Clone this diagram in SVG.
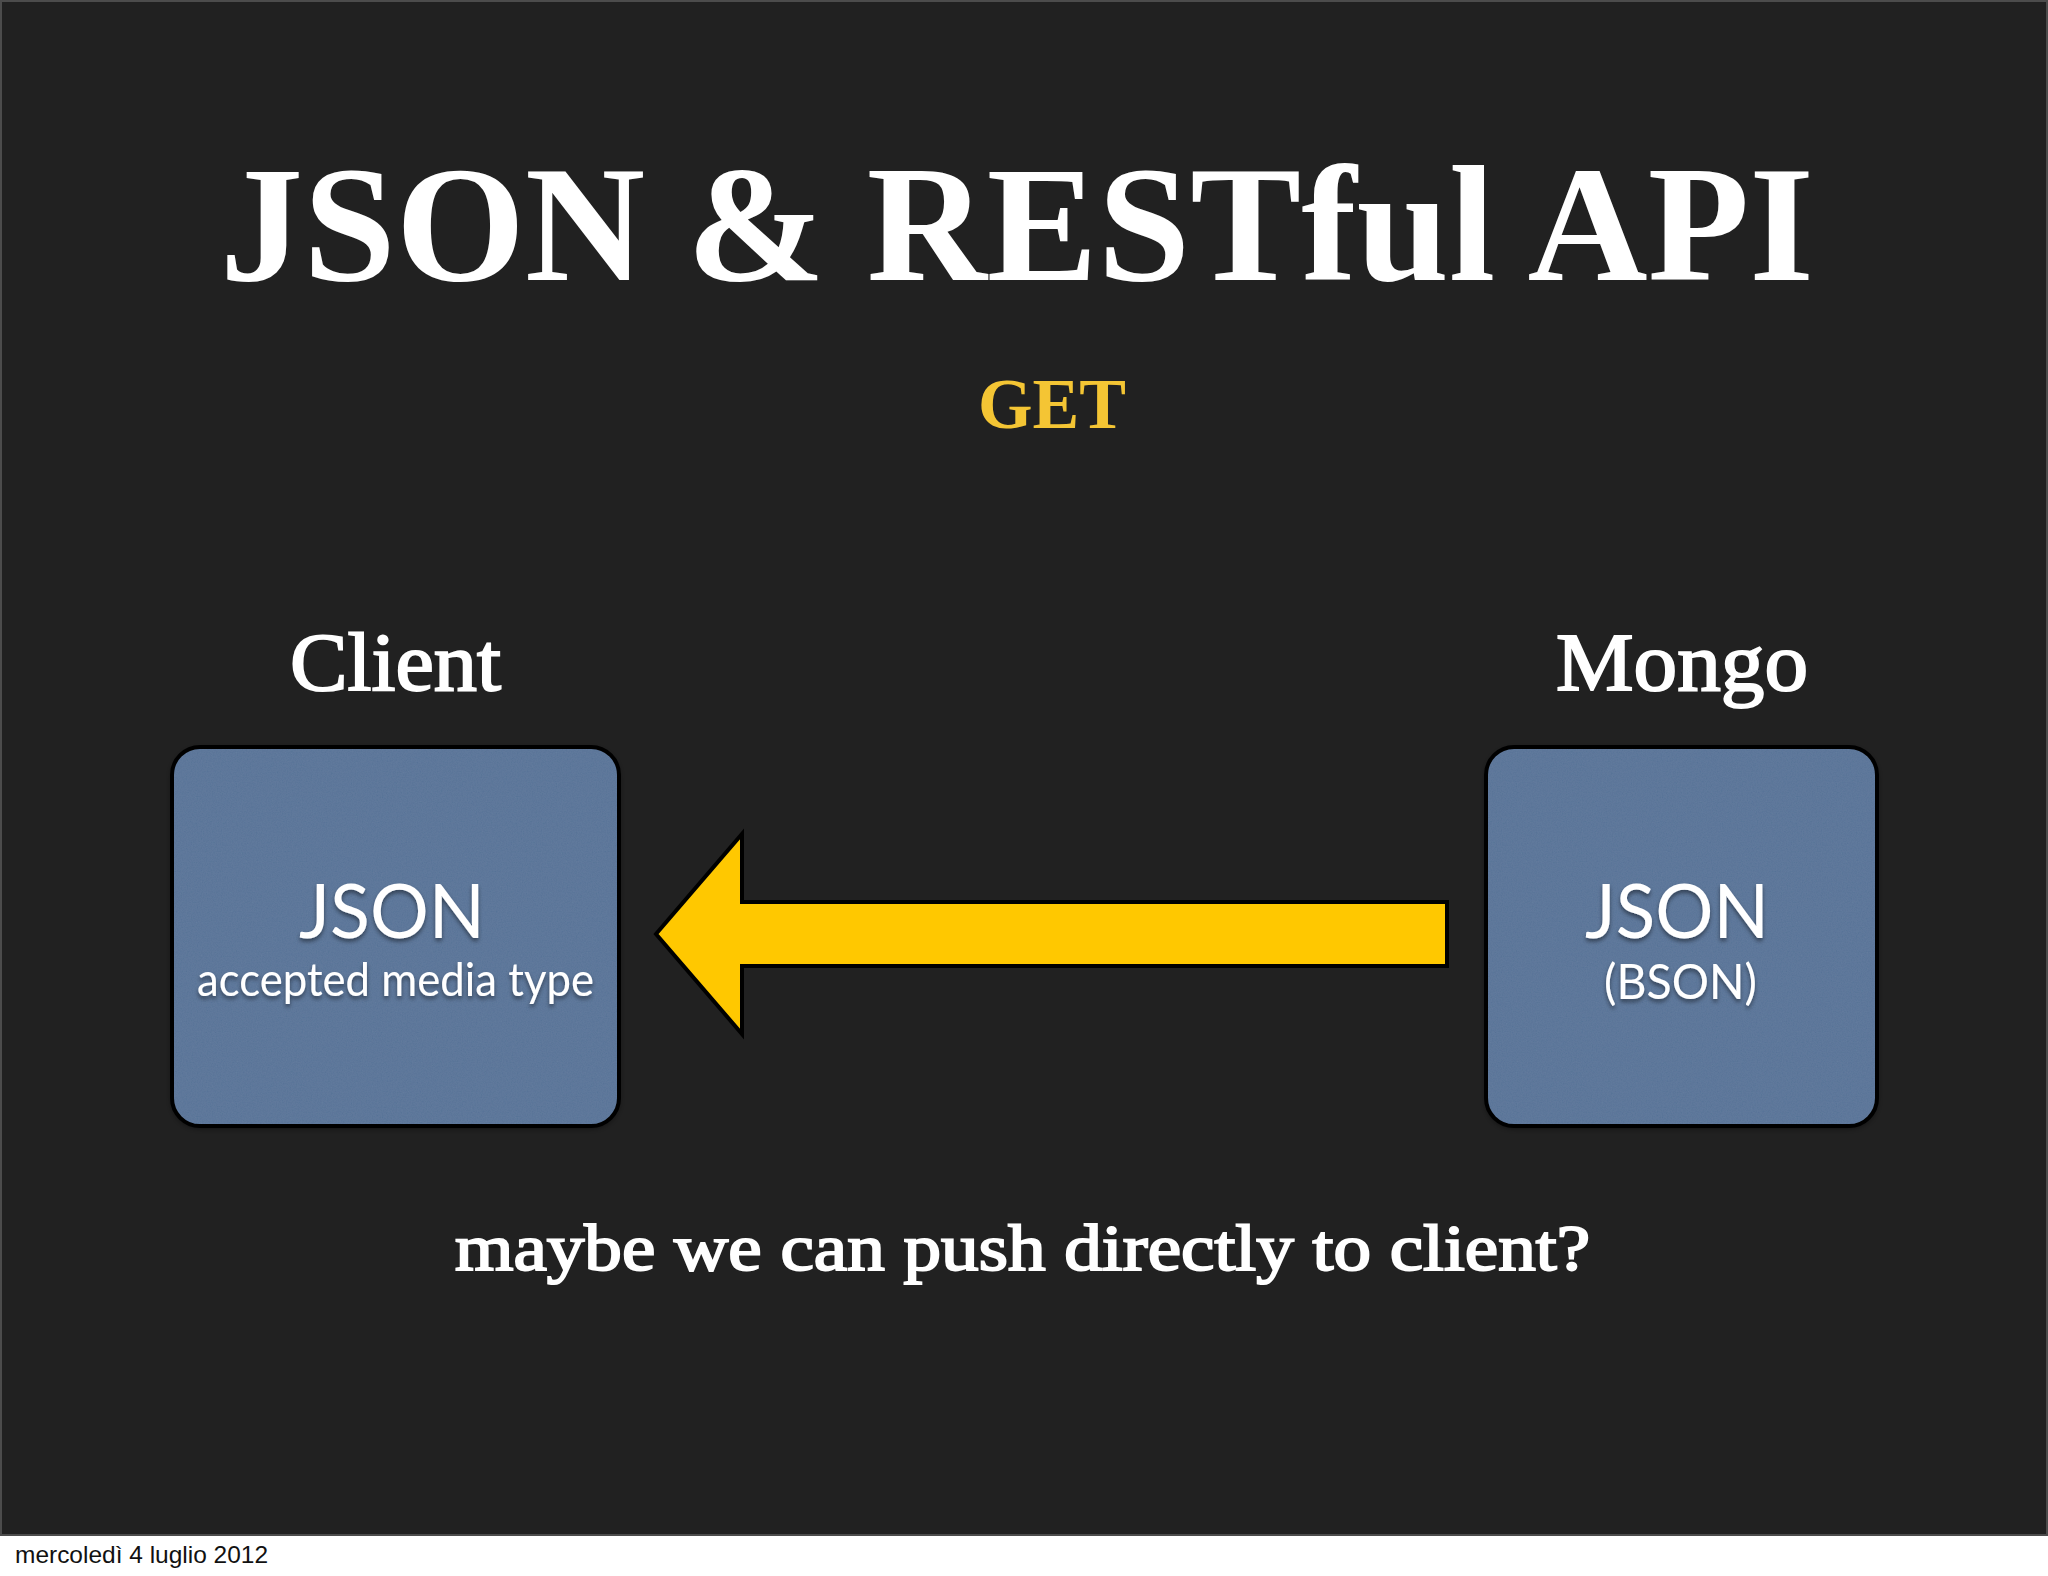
<svg xmlns="http://www.w3.org/2000/svg" width="2048" height="1576" viewBox="0 0 2048 1576">
  <defs>
    <style>
      .serif { font-family: "Liberation Serif", "DejaVu Serif", serif; font-weight: bold; fill: #ffffff; }
      .serif-m { font-family: "Liberation Serif", "DejaVu Serif", serif; font-weight: normal; fill: #ffffff; stroke: #ffffff; stroke-width: 2; }
      .sans { font-family: Lato, "Open Sans", "Liberation Sans", sans-serif; fill: #ffffff; }
      .box { fill: #567296; }
      .box-edge { fill: none; stroke: #000000; stroke-width: 4; }
      .arrow { fill: #ffc800; stroke: #000000; stroke-width: 4; stroke-linejoin: miter; }
    </style>
    <filter id="paper" x="0" y="0" width="100%" height="100%">
      <feTurbulence type="fractalNoise" baseFrequency="0.8" numOctaves="3" seed="4" result="noise"/>
      <feColorMatrix in="noise" type="matrix" values="0 0 0 0 0.6  0 0 0 0 0.7  0 0 0 0 0.85  0 0 0 0.07 0" result="tint"/>
      <feComposite in="tint" in2="SourceAlpha" operator="in" result="grain"/>
      <feMerge>
        <feMergeNode in="SourceGraphic"/>
        <feMergeNode in="grain"/>
      </feMerge>
    </filter>
    <filter id="tshadow" x="-10%" y="-20%" width="120%" height="150%">
      <feDropShadow dx="0" dy="3" stdDeviation="2" flood-color="#000000" flood-opacity="0.45"/>
    </filter>
    <filter id="bshadow" x="-10%" y="-10%" width="120%" height="120%">
      <feDropShadow dx="0" dy="2" stdDeviation="3" flood-color="#000000" flood-opacity="0.6"/>
    </filter>
  </defs>

  <rect x="0" y="0" width="2048" height="1576" fill="#ffffff"/>
  <rect x="1" y="1" width="2046" height="1534" fill="#212121" stroke="#4c4c4c" stroke-width="2"/>

  <g id="title">
    <text class="serif" x="220" y="280" font-size="166" textLength="1594" lengthAdjust="spacingAndGlyphs">JSON &amp; RESTful API</text>
  </g>
  <g id="method">
    <text class="serif" x="978" y="428" font-size="71" style="fill:#f4c534" textLength="148" lengthAdjust="spacingAndGlyphs">GET</text>
  </g>
  <g id="client-label">
    <text class="serif-m" x="290" y="690" font-size="83" textLength="211" lengthAdjust="spacingAndGlyphs">Client</text>
  </g>
  <g id="mongo-label">
    <text class="serif-m" x="1556" y="690" font-size="83" textLength="252" lengthAdjust="spacingAndGlyphs">Mongo</text>
  </g>

  <g id="connectors">
    <polygon class="arrow" points="656,934 742,834 742,902 1447,902 1447,966 742,966 742,1034"/>
  </g>

  <g id="client">
    <g filter="url(#bshadow)">
      <rect class="box" x="172" y="747" width="447" height="379" rx="28" ry="28" filter="url(#paper)"/>
    </g>
    <rect class="box-edge" x="172" y="747" width="447" height="379" rx="28" ry="28"/>
    <g filter="url(#tshadow)">
      <text class="sans" x="299" y="938" font-size="76" textLength="186" lengthAdjust="spacingAndGlyphs">JSON</text>
      <text class="sans" x="197" y="996" font-size="47" textLength="397" lengthAdjust="spacingAndGlyphs">accepted media type</text>
    </g>
  </g>

  <g id="mongo">
    <g filter="url(#bshadow)">
      <rect class="box" x="1486" y="747" width="391" height="379" rx="28" ry="28" filter="url(#paper)"/>
    </g>
    <rect class="box-edge" x="1486" y="747" width="391" height="379" rx="28" ry="28"/>
    <g filter="url(#tshadow)">
      <text class="sans" x="1585" y="938" font-size="76" textLength="184" lengthAdjust="spacingAndGlyphs">JSON</text>
      <text class="sans" x="1604" y="999" font-size="48" textLength="153" lengthAdjust="spacingAndGlyphs">(BSON)</text>
    </g>
  </g>

  <g id="question">
    <text class="serif-m" x="455" y="1270" font-size="66" textLength="1135" lengthAdjust="spacingAndGlyphs">maybe we can push directly to client?</text>
  </g>

  <g id="footer">
    <text x="15" y="1563" font-family="'Liberation Sans', Arial, sans-serif" font-size="24" fill="#111111" textLength="253" lengthAdjust="spacingAndGlyphs">mercoledì 4 luglio 2012</text>
  </g>
</svg>
